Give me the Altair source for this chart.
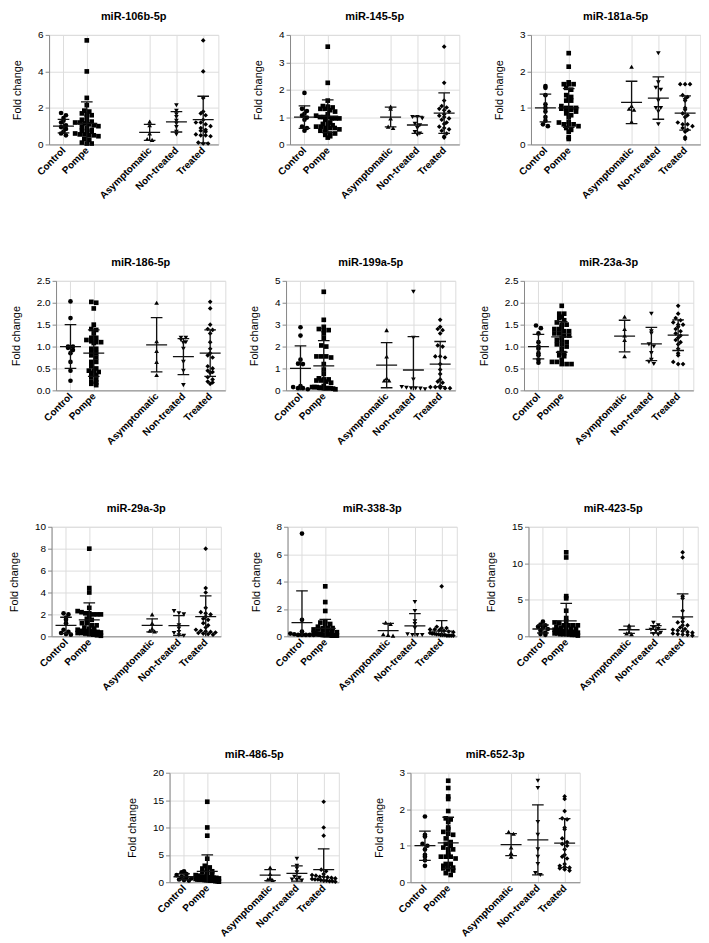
import altair as alt
import pandas as pd

TITLES = ["miR-106b-5p", "miR-145-5p", "miR-181a-5p", "miR-186-5p", "miR-199a-5p",
          "miR-23a-3p", "miR-29a-3p", "miR-338-3p", "miR-423-5p", "miR-486-5p", "miR-652-3p"]
YMAX = [6, 4, 3, 2.5, 5, 2.5, 10, 8, 15, 20, 3]
YSTEP = [2, 1, 1, 0.5, 1, 0.5, 2, 2, 5, 5, 1]

GROUPS = ["Control", "Pompe", "Asymptomatic", "Non-treated", "Treated"]
SHAPES = ["circle", "square", "triangle-up", "triangle-down", "diamond"]
SLOT = [0, 1, 3.7, 4.85, 6]

# individual fold-change values (one list per miRNA panel)
CONTROL = [
    [1.72, 1.6, 1.45, 1.3, 1.2, 1.05, 0.95, 0.85, 0.7, 0.6, 0.5],
    [1.88, 1.3, 1.22, 1.12, 1.05, 0.98, 0.9, 0.65, 0.6, 0.5],
    [1.6, 1.55, 1.35, 1.1, 1.0, 0.9, 0.75, 0.65, 0.55, 0.5],
    [2.03, 1.65, 1.0, 1.0, 0.97, 0.92, 0.85, 0.65, 0.45, 0.22],
    [2.88, 2.5, 1.4, 1.22, 1.2, 0.2, 0.15, 0.1, 0.1, 0.05],
    [1.48, 1.42, 1.3, 1.1, 1.0, 0.95, 0.85, 0.8, 0.7, 0.63],
    [2.1, 2.0, 1.7, 1.5, 1.2, 0.6, 0.4, 0.3, 0.2, 0.15],
    [7.5, 1.2, 0.35, 0.2, 0.15, 0.1, 0.1, 0.1, 0.1, 0.1],
    [2.0, 1.6, 1.5, 1.3, 1.2, 1.0, 0.8, 0.5, 0.3, 0.2],
    [2.0, 1.8, 1.5, 1.3, 1.0, 0.9, 0.7, 0.5, 0.4, 0.3],
    [1.8, 1.3, 1.25, 1.05, 1.0, 0.9, 0.75, 0.7, 0.6, 0.45],
]
ASYMPTOMATIC = [
    [1.25, 1.05, 0.6, 0.3, 0.25],
    [1.38, 1.3, 0.95, 0.65, 0.6],
    [2.13, 1.05, 0.98, 0.95, 0.62],
    [2.0, 1.12, 0.9, 0.65, 0.35],
    [2.75, 1.55, 0.55, 0.45, 0.45],
    [1.68, 1.4, 1.25, 1.15, 0.78],
    [2.0, 1.2, 0.7, 0.5, 0.45],
    [1.0, 0.9, 0.15, 0.1, 0.05],
    [1.5, 1.3, 0.6, 0.4, 0.3],
    [2.7, 1.5, 0.8, 0.5, 0.4],
    [1.38, 1.33, 0.95, 0.8, 0.7],
]
NONTREATED = [
    [2.15, 1.85, 1.65, 1.5, 1.3, 1.15, 0.95, 0.7, 0.55],
    [1.0, 1.0, 0.95, 0.75, 0.7, 0.6, 0.45, 0.4, 0.35],
    [2.5, 1.7, 1.55, 1.5, 1.2, 1.0, 1.0, 0.9, 0.55],
    [1.2, 1.2, 1.15, 1.1, 1.08, 0.95, 0.65, 0.45, 0.12],
    [4.5, 2.4, 0.5, 0.15, 0.12, 0.1, 0.1, 0.08, 0.05],
    [1.75, 1.35, 1.3, 1.05, 1.0, 0.85, 0.7, 0.65, 0.6],
    [2.3, 2.1, 2.0, 1.0, 0.7, 0.4, 0.3, 0.1, 0.05],
    [2.5, 1.85, 1.1, 0.9, 0.6, 0.15, 0.1, 0.1, 0.1],
    [1.85, 1.5, 1.2, 1.0, 0.9, 0.7, 0.5, 0.3, 0.2],
    [4.3, 3.0, 2.5, 1.8, 1.0, 0.8, 0.5, 0.4, 0.3],
    [2.78, 2.58, 1.65, 1.3, 0.9, 0.7, 0.5, 0.25, 0.2],
]
TREATED = [
    [5.7, 4.0, 2.55, 1.8, 1.7, 1.6, 1.35, 1.2, 1.2, 1.1, 1.0, 0.9, 0.8, 0.75, 0.7, 0.55, 0.5, 0.5, 0.45, 0.1, 0.05, 0.05],
    [3.57, 2.25, 1.6, 1.4, 1.35, 1.3, 1.25, 1.2, 1.1, 1.05, 1.0, 0.95, 0.9, 0.8, 0.75, 0.65, 0.6, 0.55, 0.5, 0.4, 0.3, 0.25],
    [1.65, 1.65, 1.65, 1.35, 1.3, 1.25, 1.2, 1.0, 0.95, 0.85, 0.8, 0.75, 0.6, 0.55, 0.55, 0.5, 0.45, 0.4, 0.35, 0.2, 0.15],
    [2.02, 1.87, 1.5, 1.4, 1.38, 1.3, 1.1, 0.95, 0.85, 0.8, 0.75, 0.55, 0.5, 0.45, 0.42, 0.4, 0.3, 0.25, 0.2, 0.18, 0.15],
    [3.22, 2.9, 2.8, 2.75, 2.6, 2.05, 2.0, 1.55, 1.55, 1.5, 1.2, 0.95, 0.75, 0.5, 0.4, 0.35, 0.2, 0.15, 0.15, 0.12, 0.1, 0.1],
    [1.93, 1.75, 1.65, 1.6, 1.55, 1.5, 1.5, 1.45, 1.4, 1.35, 1.3, 1.25, 1.2, 1.15, 1.1, 1.05, 0.95, 0.85, 0.8, 0.65, 0.6, 0.6],
    [8.0, 4.4, 4.0, 2.6, 2.2, 2.1, 2.0, 1.8, 1.6, 1.5, 1.2, 1.0, 0.8, 0.6, 0.5, 0.45, 0.4, 0.35, 0.3, 0.25, 0.2, 0.15],
    [3.65, 0.7, 0.6, 0.6, 0.5, 0.5, 0.45, 0.4, 0.35, 0.3, 0.25, 0.2, 0.2, 0.15, 0.15, 0.1, 0.1, 0.1, 0.05, 0.05, 0.05, 0.05],
    [11.5, 10.8, 5.5, 5.2, 3.5, 2.5, 2.0, 1.9, 1.5, 1.5, 1.2, 1.0, 0.9, 0.8, 0.7, 0.6, 0.5, 0.4, 0.3, 0.25, 0.2, 0.1],
    [14.7, 10.0, 8.5, 2.3, 2.0, 1.5, 1.3, 1.2, 1.0, 1.0, 0.9, 0.8, 0.7, 0.6, 0.5, 0.5, 0.4, 0.3, 0.3, 0.2, 0.2, 0.1],
    [2.35, 2.28, 1.95, 1.75, 1.72, 1.5, 1.45, 1.2, 1.1, 1.05, 1.0, 0.9, 0.75, 0.7, 0.65, 0.5, 0.45, 0.42, 0.4, 0.38, 0.35, 0.32],
]

# mean and SD shown by the error bars
CONTROL_MEAN = [1.0, 1.0, 1.0, 1.0, 1.0, 1.0, 1.0, 1.0, 1.0, 1.0, 1.0]
CONTROL_SD = [0.37, 0.41, 0.38, 0.5, 1.03, 0.28, 0.74, 2.32, 0.55, 0.55, 0.4]
POMPE_MEAN = [1.15, 1.03, 1.0, 0.85, 1.12, 1.22, 1.5, 0.58, 2.1, 2.0, 1.08]
POMPE_SD = [1.18, 0.6, 0.53, 0.53, 1.15, 0.35, 1.55, 0.65, 2.4, 3.0, 0.7]
ASYM_MEAN = [0.66, 1.0, 1.15, 1.04, 1.15, 1.24, 1.0, 0.42, 0.9, 1.3, 1.03]
ASYM_SD = [0.44, 0.36, 0.58, 0.62, 1.03, 0.36, 0.6, 0.52, 0.5, 1.0, 0.3]
NT_MEAN = [1.24, 0.71, 1.27, 0.77, 0.93, 1.06, 0.98, 0.76, 0.95, 1.6, 1.16]
NT_SD = [0.56, 0.31, 0.58, 0.41, 1.52, 0.38, 0.9, 0.9, 0.5, 1.4, 0.96]
TREATED_MEAN = [1.36, 1.14, 0.86, 0.85, 1.2, 1.26, 1.8, 0.38, 2.65, 2.3, 1.07]
TREATED_SD = [1.28, 0.74, 0.47, 0.53, 1.03, 0.35, 1.9, 0.77, 3.15, 3.8, 0.67]

FONT = "Liberation Sans"
W, H = 170, 110


def spread(vals, ymax):
    """GraphPad-like horizontal spreading of points sharing a value bin."""
    binh = ymax / 30.0
    order = sorted(range(len(vals)), key=lambda k: -vals[k])
    bins = {}
    for k in order:
        bins.setdefault(int(vals[k] / binh), []).append(k)
    offs = [0.0] * len(vals)
    for members in bins.values():
        n = len(members)
        step = 0.21
        if n > 1 and (n - 1) * step > 1.0:
            step = 1.0 / (n - 1)
        for j, k in enumerate(members):
            offs[k] = (j - (n - 1) / 2) * step
    return offs


label_expr = ""
for pos, g in zip(SLOT, GROUPS):
    label_expr += f"abs(datum.value - {pos}) < 0.01 ? '{g}' : "
label_expr += "''"


def xenc(field):
    return alt.X(field, scale=alt.Scale(domain=[-0.62, 6.65], nice=False, zero=False),
                 axis=alt.Axis(values=SLOT, labelExpr=label_expr, title=None, ticks=False,
                               labelAngle=-45, labelAlign="right", labelBaseline="middle",
                               labelOverlap=False, labelFlush=False, labelPadding=4,
                               labelFontWeight="bold"))


def yenc(field, i):
    ymax = YMAX[i]
    st = YSTEP[i]
    n = int(round(ymax / st))
    ticks = [round(st * k, 2) for k in range(n + 1)]
    fmt = ".1f" if st < 1 else "d"
    return alt.Y(field, scale=alt.Scale(domain=[0, ymax], nice=False, zero=True),
                 axis=alt.Axis(values=ticks, format=fmt, title="Fold change", titlePadding=15,
                               titleFontWeight="normal", titleFont=FONT, titleFontSize=11,
                               titleColor="black",
                               tickSize=4, labelPadding=2, labelFontWeight="normal"))


def panel(i):
    ymax = YMAX[i]
    groups = {
        "Control": CONTROL[i],
        "Asymptomatic": ASYMPTOMATIC[i],
        "Non-treated": NONTREATED[i],
        "Treated": TREATED[i],
    }
    # Pompe patients = asymptomatic + non-treated + treated patients
    groups["Pompe"] = ASYMPTOMATIC[i] + NONTREATED[i] + TREATED[i]
    rows = []
    for g, pos in zip(GROUPS, SLOT):
        vals = groups[g]
        for v, o in zip(vals, spread(vals, ymax)):
            rows.append({"group": g, "x": pos + o, "value": v})
    pts = pd.DataFrame(rows)

    means = [CONTROL_MEAN[i], POMPE_MEAN[i], ASYM_MEAN[i], NT_MEAN[i], TREATED_MEAN[i]]
    sds = [CONTROL_SD[i], POMPE_SD[i], ASYM_SD[i], NT_SD[i], TREATED_SD[i]]
    st = pd.DataFrame({"group": GROUPS, "pos": SLOT, "mean": means, "sd": sds})
    st["lo"] = st["mean"] - st["sd"]
    st["hi"] = st["mean"] + st["sd"]
    st["m1"] = st["pos"] - 0.45
    st["m2"] = st["pos"] + 0.45
    st["c1"] = st["pos"] - 0.25
    st["c2"] = st["pos"] + 0.25

    points = alt.Chart(pts).mark_point(filled=True, opacity=1, size=22, strokeWidth=0).encode(
        x=xenc("x:Q"), y=yenc("value:Q", i),
        shape=alt.Shape("group:N", scale=alt.Scale(domain=GROUPS, range=SHAPES), legend=None),
        color=alt.value("black"),
    )
    base = alt.Chart(st)
    rule = dict(color="#111111", strokeWidth=1.3, clip=True)
    mean_line = base.mark_rule(**rule).encode(x=xenc("m1:Q"), x2="m2:Q", y=yenc("mean:Q", i))
    whisker = base.mark_rule(**rule).encode(x=xenc("pos:Q"), y=yenc("lo:Q", i), y2="hi:Q")
    cap_hi = base.mark_rule(**rule).encode(x=xenc("c1:Q"), x2="c2:Q", y=yenc("hi:Q", i))
    cap_lo = base.mark_rule(**rule).encode(x=xenc("c1:Q"), x2="c2:Q", y=yenc("lo:Q", i))

    return alt.layer(points, whisker, mean_line, cap_hi, cap_lo).properties(
        width=W, height=H,
        title=alt.Title(TITLES[i], font=FONT, fontSize=11, fontWeight="bold", color="black", offset=8),
    )


rows = [
    alt.hconcat(panel(0), panel(1), panel(2), spacing=32),
    alt.hconcat(panel(3), panel(4), panel(5), spacing=21),
    alt.hconcat(panel(6), panel(7), panel(8), spacing=27),
    alt.hconcat(panel(9), panel(10), spacing=32),
]

chart = alt.vconcat(*rows, spacing=55, center=True).properties(padding=0).configure_view(
    stroke=None
).configure_axis(
    domainColor="black", domainWidth=1.3, tickColor="black", tickWidth=1.3,
    labelColor="black", labelFont=FONT, labelFontSize=9,
    titleFont=FONT, titleFontSize=11, titleFontWeight="normal", titleColor="black",
    grid=False,
).configure(background="white")

chart.save("out.html", embed_options={"renderer": "svg", "actions": False})
